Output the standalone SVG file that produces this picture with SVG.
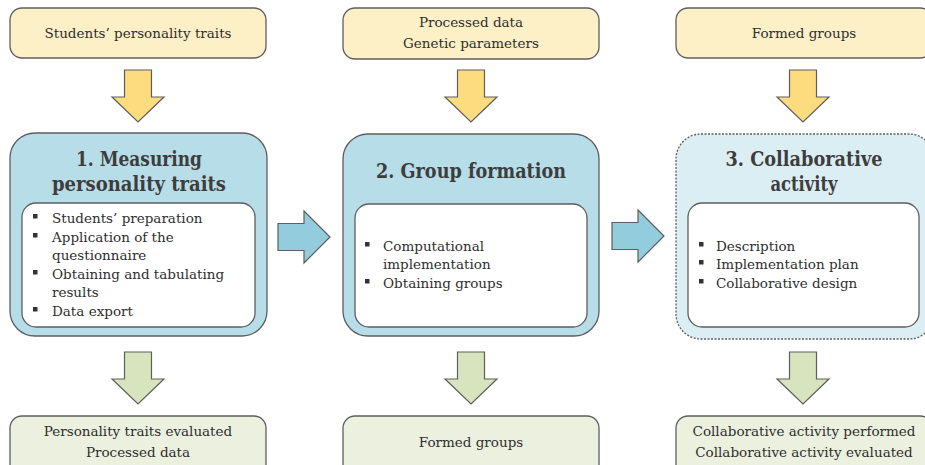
<svg xmlns="http://www.w3.org/2000/svg" width="925" height="465" viewBox="0 0 925 465">
<style>
.t{font-family:"DejaVu Serif","Liberation Serif",serif;font-size:13.5px;fill:#2e2e2e}
.c{text-anchor:middle}
.h{font-family:"DejaVu Serif","Liberation Serif",serif;font-size:19.5px;font-weight:bold;fill:#3d3d3d;text-anchor:middle}
.in{fill:#fdf0c6;stroke:#5e5e5e;stroke-width:1.3}
.out{fill:#ebf1de;stroke:#5e5e5e;stroke-width:1.3}
.main{fill:#b7dde8;stroke:#5e5e5e;stroke-width:1.3}
.main3{fill:#dbeef3;stroke:#5e5e5e;stroke-width:1.3;stroke-dasharray:2 1.5}
.inner{fill:#fff;stroke:#5e5e5e;stroke-width:1.3}
.ya{fill:#fddc7f;stroke:#5e5e5e;stroke-width:1.2}
.ga{fill:#d7e4bd;stroke:#5e5e5e;stroke-width:1.2}
.ba{fill:#93cddd;stroke:#5e5e5e;stroke-width:1.2}
.b{fill:#333}
</style>
<defs>
<path id="dy" d="M-13.5,0 H13.5 V27 H26 L0,52 L-26,27 H-13.5 Z"/>
<path id="rb" d="M0,-13.5 H26 V-26 L52,0 L26,26 V13.5 H0 Z"/>
<rect id="sq" x="0" y="0" width="4.5" height="4.5"/>
</defs>

<g id="input1"><rect class="in" x="10" y="8" width="256" height="50" rx="12"/><text class="t c" x="138" y="38">Students’ personality traits</text></g>
<g id="input2"><rect class="in" x="343" y="8" width="256" height="51" rx="12"/><text class="t c" x="471" y="27">Processed data</text><text class="t c" x="471" y="48">Genetic parameters</text></g>
<g id="input3"><rect class="in" x="676" y="8" width="256" height="50" rx="12"/><text class="t c" x="804" y="38">Formed groups</text></g>

<g id="step1">
<rect class="main" x="10" y="133" width="257" height="203" rx="25"/>
<text class="h" x="139" y="166" textLength="126" lengthAdjust="spacingAndGlyphs">1. Measuring</text>
<text class="h" x="139" y="191" textLength="174" lengthAdjust="spacingAndGlyphs">personality traits</text>
<rect class="inner" x="22" y="203" width="233" height="124" rx="14"/>
<use href="#sq" class="b" x="33" y="214"/><text class="t" x="52" y="223">Students’ preparation</text>
<use href="#sq" class="b" x="33" y="233"/><text class="t" x="52" y="242">Application of the</text>
<text class="t" x="52" y="260">questionnaire</text>
<use href="#sq" class="b" x="33" y="270"/><text class="t" x="52" y="279">Obtaining and tabulating</text>
<text class="t" x="52" y="297">results</text>
<use href="#sq" class="b" x="33" y="307"/><text class="t" x="52" y="316">Data export</text>
</g>

<g id="step2">
<rect class="main" x="343" y="134" width="256" height="202" rx="25"/>
<text class="h" x="471" y="178" textLength="190" lengthAdjust="spacingAndGlyphs">2. Group formation</text>
<rect class="inner" x="355" y="204" width="232" height="123" rx="14"/>
<use href="#sq" class="b" x="365" y="242"/><text class="t" x="383" y="251">Computational</text>
<text class="t" x="383" y="269">implementation</text>
<use href="#sq" class="b" x="365" y="279"/><text class="t" x="383" y="288">Obtaining groups</text>
</g>

<g id="step3">
<rect class="main3" x="676" y="134" width="258" height="205" rx="25"/>
<text class="h" x="804" y="166" textLength="157" lengthAdjust="spacingAndGlyphs">3. Collaborative</text>
<text class="h" x="804" y="191" textLength="67" lengthAdjust="spacingAndGlyphs">activity</text>
<rect class="inner" x="688" y="203" width="231" height="124" rx="14"/>
<use href="#sq" class="b" x="699" y="242"/><text class="t" x="716" y="251">Description</text>
<use href="#sq" class="b" x="699" y="260"/><text class="t" x="716" y="269">Implementation plan</text>
<use href="#sq" class="b" x="699" y="279"/><text class="t" x="716" y="288">Collaborative design</text>
</g>

<g id="output1"><rect class="out" x="10" y="416" width="256" height="62" rx="12"/><text class="t c" x="138" y="436">Personality traits evaluated</text><text class="t c" x="138" y="457">Processed data</text></g>
<g id="output2"><rect class="out" x="343" y="416" width="256" height="62" rx="12"/><text class="t c" x="471" y="447">Formed groups</text></g>
<g id="output3"><rect class="out" x="676" y="416" width="256" height="62" rx="12"/><text class="t c" x="804" y="436">Collaborative activity performed</text><text class="t c" x="804" y="457">Collaborative activity evaluated</text></g>

<g id="connectors">
<use href="#dy" class="ya" x="138" y="70"/>
<use href="#dy" class="ya" x="471" y="70"/>
<use href="#dy" class="ya" x="803" y="70"/>
<use href="#dy" class="ga" x="138" y="352"/>
<use href="#dy" class="ga" x="471" y="352"/>
<use href="#dy" class="ga" x="803" y="352"/>
<use href="#rb" class="ba" x="278" y="237"/>
<use href="#rb" class="ba" x="612" y="236"/>
</g>
</svg>
